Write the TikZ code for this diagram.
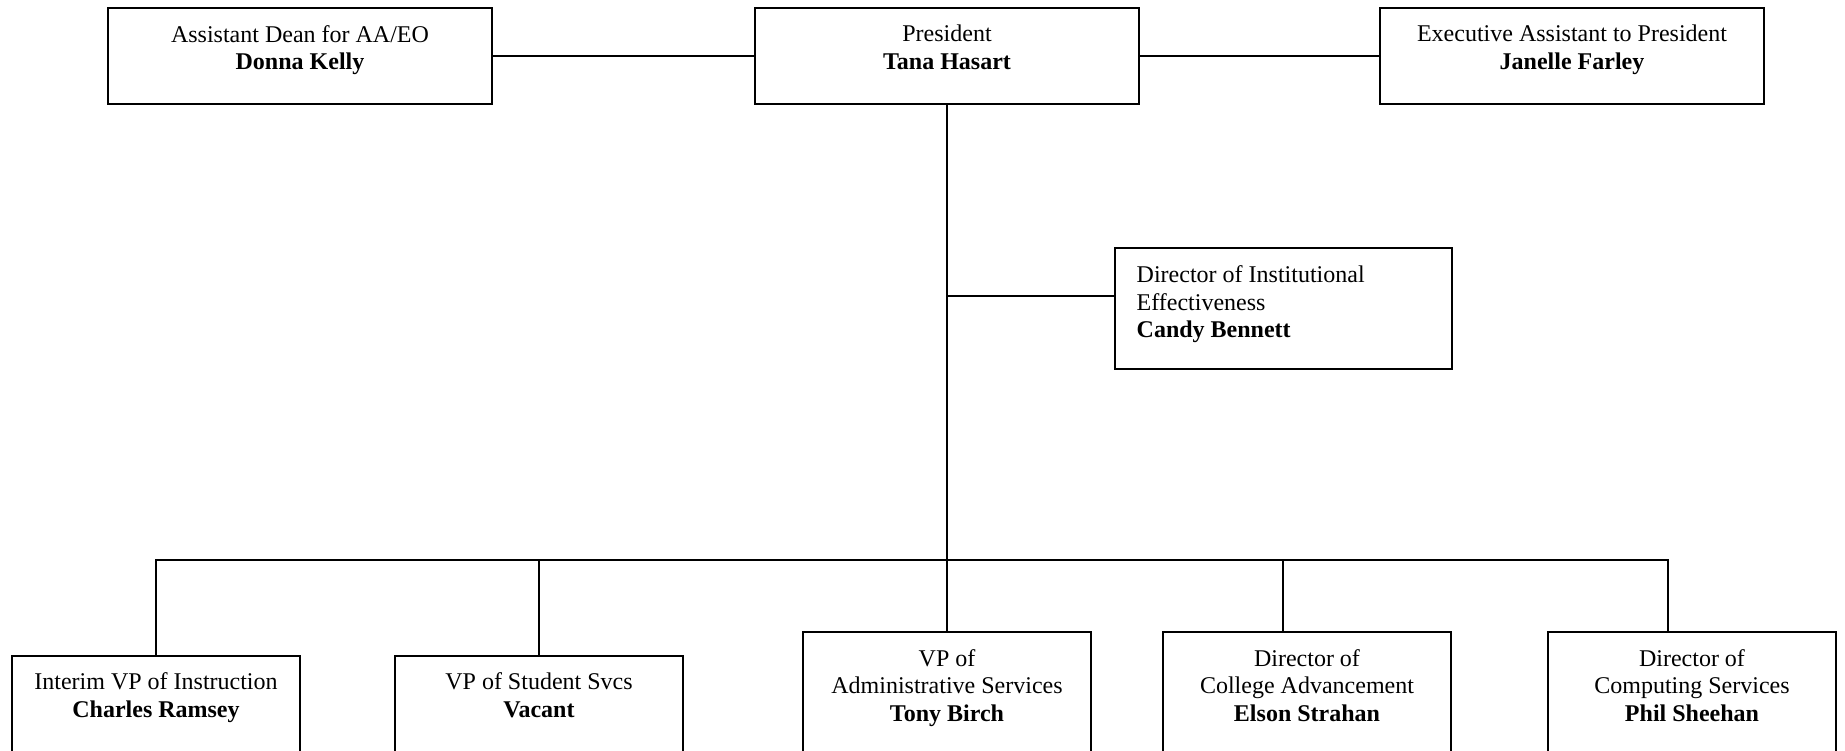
\documentclass[tikz,border=0pt]{standalone}
\usepackage{fontspec}
\setmainfont{Liberation Serif}
\begin{document}
\begin{tikzpicture}[x=1pt,y=-1pt,
  line width=1.4pt,
  box/.style={draw, rectangle, inner sep=0pt, outer sep=0pt, anchor=north west},
  topbox/.style={box, minimum width=384pt, minimum height=96pt},
  lowbox/.style={box, minimum width=288pt, minimum height=170pt},
  boxtext/.style={anchor=north, inner sep=0pt, align=center,
    font=\fontsize{24pt}{27.6pt}\selectfont},
  link/.style={draw, line width=1.4pt}]

% page frame
\useasboundingbox (0,0) rectangle (1845,750);
\clip (0,0) rectangle (1845,750);

% top row
\node[topbox] (dean) at (108,8) {};
\node[topbox] (pres) at (755,8) {};
\node[topbox] (exec) at (1380,8) {};

% staff box beside the trunk
\node[box, minimum width=337pt, minimum height=121pt] (ie) at (1115,248) {};

% bottom row (boxes run past the lower page edge)
\node[lowbox] (instr) at (12,656) {};
\node[lowbox] (stu)   at (395,656) {};
\node[lowbox] (adm)   at (803,632) {};
\node[lowbox] (adv)   at (1163,632) {};
\node[lowbox] (comp)  at (1548,632) {};

% box texts
\node[boxtext] (dean-t) at ([yshift=-16.5pt]dean.north)
  {Assistant Dean for AA/EO\\\textbf{Donna Kelly}};
\node[boxtext] (pres-t) at ([yshift=-16.5pt]pres.north)
  {President\\\textbf{Tana Hasart}};
\node[boxtext] (exec-t) at ([yshift=-16.5pt]exec.north)
  {Executive Assistant to President\\\textbf{Janelle Farley}};
\node[boxtext, anchor=north west, align=left] (ie-t)
  at ([xshift=21pt,yshift=-17pt]ie.north west)
  {Director of Institutional\\Effectiveness\\\textbf{Candy Bennett}};
\node[boxtext] (instr-t) at ([yshift=-16pt]instr.north)
  {Interim VP of Instruction\\\textbf{Charles Ramsey}};
\node[boxtext] (stu-t) at ([yshift=-16pt]stu.north)
  {VP of Student Svcs\\\textbf{Vacant}};
\node[boxtext] (adm-t) at ([yshift=-16.5pt]adm.north)
  {VP of\\Administrative Services\\\textbf{Tony Birch}};
\node[boxtext] (adv-t) at ([yshift=-16.5pt]adv.north)
  {Director of\\College Advancement\\\textbf{Elson Strahan}};
\node[boxtext] (comp-t) at ([yshift=-16.5pt]comp.north)
  {Director of\\Computing Services\\\textbf{Phil Sheehan}};

% junction points
\coordinate (bus)  at (947,560);
\coordinate (tap)  at (947,296);
\coordinate (advtap)  at ([xshift=120pt]adv.north west);
\coordinate (comptap) at ([xshift=120pt]comp.north west);

% connectors
\draw[link] (dean.east) -- (pres.west);
\draw[link] (pres.east) -- (exec.west);
\draw[link] (pres.south) -- (adm.north);
\draw[link] (tap) -- (tap -| ie.west);
\draw[link] (instr.north) -- (instr.north |- bus) -- (comptap |- bus) -- (comptap);
\draw[link] (stu.north |- bus) -- (stu.north);
\draw[link] (advtap |- bus) -- (advtap);
\end{tikzpicture}
\end{document}
